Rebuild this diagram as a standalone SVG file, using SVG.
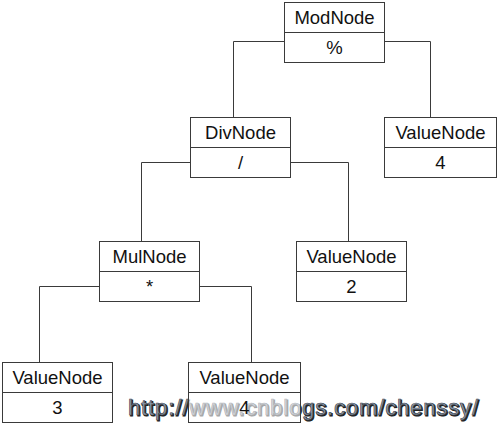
<svg xmlns="http://www.w3.org/2000/svg" width="499" height="425" viewBox="0 0 499 425">
<style>
.box{fill:#fff;stroke:#3a3a3a;stroke-width:1}
.div{stroke:#3a3a3a;stroke-width:1}
.t{font-family:"Liberation Sans",Arial,sans-serif;font-size:18.5px;fill:#111;text-anchor:middle}
.wire{fill:none;stroke:#3a3a3a;stroke-width:1}
.wm{font-family:"Liberation Sans",Arial,sans-serif;font-size:22px}
</style>
<rect width="499" height="425" fill="#fff"/>
<g id="watermark">
<text class="wm" x="129" y="416" fill="#222" stroke="#222" stroke-width="1.2" textLength="350" lengthAdjust="spacing">http://www.cnblogs.com/chenssy/</text>
<text class="wm" x="128" y="415" fill="#8c99a8" stroke="#3c4450" stroke-width="0.6" textLength="350" lengthAdjust="spacing">http://www.cnblogs.com/chenssy/</text>
</g>
<g id="connectors">
<polyline class="wire" points="284.5,41.5 233.5,41.5 233.5,117.5"/>
<polyline class="wire" points="384.5,41.5 430.5,41.5 430.5,117.5"/>
<polyline class="wire" points="190.5,162.5 141.5,162.5 141.5,241.5"/>
<polyline class="wire" points="290.5,162.5 348.5,162.5 348.5,241.5"/>
<polyline class="wire" points="99.5,286.5 39.5,286.5 39.5,362.5"/>
<polyline class="wire" points="199.5,286.5 251.5,286.5 251.5,362.5"/>
</g>
<g id="modnode">
<rect class="box" x="284.5" y="2.5" width="100" height="60"/>
<line class="div" x1="284.5" y1="32.5" x2="384.5" y2="32.5"/>
<text class="t" x="334.5" y="23.5">ModNode</text>
<text class="t" x="334.5" y="53.5">%</text>
</g>
<g id="divnode">
<rect class="box" x="190.5" y="117.5" width="100" height="60"/>
<line class="div" x1="190.5" y1="147.5" x2="290.5" y2="147.5"/>
<text class="t" x="240.5" y="138.5">DivNode</text>
<text class="t" x="240.5" y="168.5">/</text>
</g>
<g id="valuenode-4-top">
<rect class="box" x="384.5" y="117.5" width="112" height="60"/>
<line class="div" x1="384.5" y1="147.5" x2="496.5" y2="147.5"/>
<text class="t" x="440.5" y="138.5">ValueNode</text>
<text class="t" x="440.5" y="168.5">4</text>
</g>
<g id="mulnode">
<rect class="box" x="99.5" y="241.5" width="100" height="60"/>
<line class="div" x1="99.5" y1="271.5" x2="199.5" y2="271.5"/>
<text class="t" x="149.5" y="262.5">MulNode</text>
<text class="t" x="149.5" y="292.5">*</text>
</g>
<g id="valuenode-2">
<rect class="box" x="296.5" y="241.5" width="110" height="60"/>
<line class="div" x1="296.5" y1="271.5" x2="406.5" y2="271.5"/>
<text class="t" x="351.5" y="262.5">ValueNode</text>
<text class="t" x="351.5" y="292.5">2</text>
</g>
<g id="valuenode-3">
<rect class="box" x="2.5" y="362.5" width="110" height="60"/>
<line class="div" x1="2.5" y1="392.5" x2="112.5" y2="392.5"/>
<text class="t" x="57.5" y="383.5">ValueNode</text>
<text class="t" x="57.5" y="413.5">3</text>
</g>
<g id="valuenode-4-bottom">
<rect class="box" x="188.5" y="362.5" width="112" height="60" style="fill-opacity:0.6"/>
<line class="div" x1="188.5" y1="392.5" x2="300.5" y2="392.5"/>
<text class="t" x="244.5" y="383.5">ValueNode</text>
<text class="t" x="244.5" y="413.5">4</text>
</g>
</svg>
